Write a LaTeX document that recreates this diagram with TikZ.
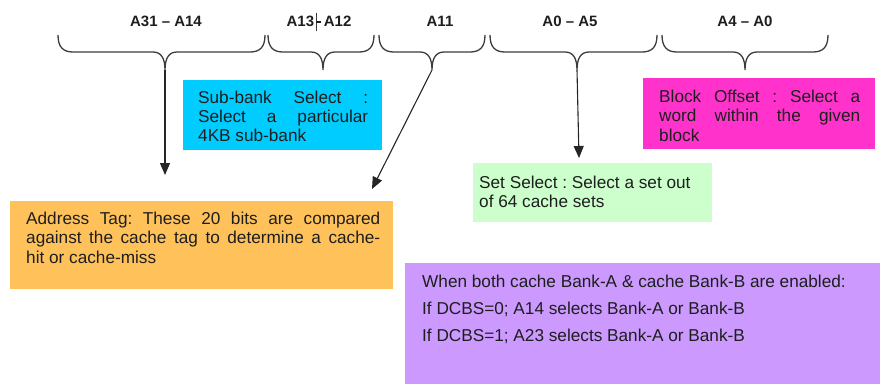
\documentclass[tikz,border=0pt]{standalone}
\usepackage{fontspec}
\setmainfont{Liberation Sans}
\usetikzlibrary{arrows.meta,calc}
\frenchspacing

\definecolor{subbankfill}{RGB}{0,204,255}
\definecolor{offsetfill}{RGB}{255,51,204}
\definecolor{setfill}{RGB}{204,255,204}
\definecolor{tagfill}{RGB}{255,194,90}
\definecolor{bankfill}{RGB}{204,153,255}
\definecolor{inktext}{RGB}{30,30,30}
\definecolor{braceink}{RGB}{60,60,60}

\tikzset{
  bracepen/.style={draw=braceink, line width=1.3pt},
  pointer/.style={draw=black!85, line width=1.1pt, -{Triangle[length=12pt,width=10pt]}},
  field/.style={font=\bfseries\fontsize{15}{18}\selectfont, text=inktext, anchor=base, inner sep=0pt},
  panel/.style={draw=none, anchor=north west, inner sep=0pt, outer sep=0pt},
  note/.style={font=\fontsize{17.2}{19.3}\selectfont, text=inktext, anchor=base west, inner sep=0pt},
}

% curly brace over an address field: left end, tip, right end, tip name
\newcommand\addrbrace[4]{%
  \draw[bracepen] (#1,35) .. controls (#1,47) and (#1+5,52) .. (#1+15,52)
    -- (#2-12,52) .. controls (#2-4,52) and (#2,58) .. (#2,70)
    .. controls (#2,58) and (#2+4,52) .. (#2+12,52)
    -- (#3-15,52) .. controls (#3-5,52) and (#3,47) .. (#3,35);
  \coordinate (#4) at (#2,70);}

% one stretched (justified) line of a given width
\newcommand\jline[2]{\makebox[#1][s]{#2}}

\begin{document}
\begin{tikzpicture}[x=1pt,y=-1pt]
\useasboundingbox (0,0) rectangle (880,384);

% field labels
\node[field] (f1) at (166,26.5) {A31 \textendash{} A14};
\node[field] (f2) at (319,26.5) {A13\hspace{1.5pt}{\color{braceink}\rule[-4pt]{0.8pt}{17.5pt}}\rule[4pt]{5pt}{1.5pt}\hspace{2.5pt}A12};
\node[field] (f3) at (440,26.5) {A11};
\node[field] (f4) at (570,26.5) {A0 \textendash{} A5};
\node[field] (f5) at (745,26.5) {A4 \textendash{} A0};

% braces under the labels
\addrbrace{58}{165}{265}{b1}
\addrbrace{268}{323}{374}{b2}
\addrbrace{379}{432}{485}{b3}
\addrbrace{490}{577}{657}{b4}
\addrbrace{662}{745}{828}{b5}

% description panels
\node[panel, fill=subbankfill, minimum width=199pt, minimum height=70pt] (subbox) at (183,80) {};
\node[note] (subtxt) at (198,103.3) {\parbox[t]{170pt}{%
  \jline{170pt}{Sub-bank Select :}\\
  \jline{170pt}{Select a particular}\\
  4KB sub-bank}};

\node[panel, fill=offsetfill, minimum width=232pt, minimum height=71pt] (offbox) at (643,78) {};
\node[note] (offtxt) at (659,102.5) {\parbox[t]{201pt}{%
  \jline{201pt}{Block Offset : Select a}\\
  \jline{201pt}{word within the given}\\
  block}};

\node[panel, fill=setfill, minimum width=239pt, minimum height=59pt] (setbox) at (473,163) {};
\node[note] (settxt) at (479,188.3) {\parbox[t]{225pt}{%
  Set Select : Select a set out\\
  of 64 cache sets}};

\node[panel, fill=tagfill, minimum width=383pt, minimum height=88pt] (tagbox) at (10,201) {};
\node[note] (tagtxt) at (26,224.5) {\parbox[t]{354pt}{%
  \jline{354pt}{Address Tag: These 20 bits are compared}\\
  \jline{354pt}{against the cache tag to determine a cache-}\\
  hit or cache-miss}};

\node[panel, fill=bankfill, minimum width=475pt, minimum height=121pt] (bankbox) at (405,263) {};
\node[note, font=\fontsize{17.2}{27}\selectfont] (banktxt) at (422,287) {\parbox[t]{440pt}{%
  When both cache Bank-A \& cache Bank-B are enabled:\\
  If DCBS=0; A14 selects Bank-A or Bank-B\\
  If DCBS=1; A23 selects Bank-A or Bank-B}};

% arrows from the braces to their descriptions
\coordinate (t1) at (165,175);
\coordinate (t3) at (372,189);
\coordinate (t4) at (579,158);
\draw[pointer] (b1) -- (t1);
\draw[pointer] (b3) -- (t3);
\draw[pointer] (b4) -- (t4);
\end{tikzpicture}
\end{document}
